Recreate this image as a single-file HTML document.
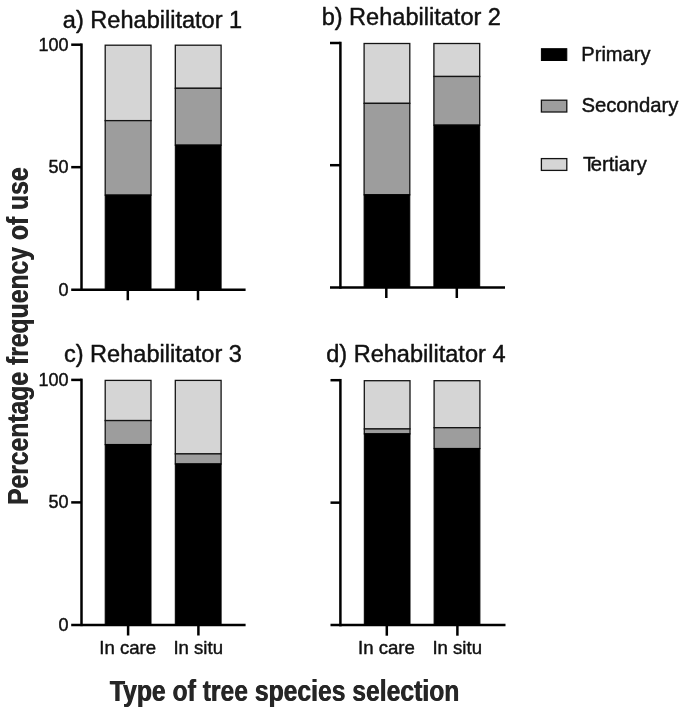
<!DOCTYPE html>
<html><head><meta charset="utf-8">
<style>
html,body{margin:0;padding:0;background:#fff;}
svg{display:block;will-change:transform;transform:translateZ(0);}
text{font-family:"Liberation Sans",sans-serif;fill:#111;stroke:#111;stroke-width:0.45;stroke-linejoin:round;}
text.b{fill:#262626;stroke:none;}
</style></head>
<body>
<svg width="685" height="717" viewBox="0 0 685 717">
<rect width="685" height="717" fill="#fff"/>
<rect x="105.2" y="45.20" width="45.80" height="75.43" fill="#d5d5d5" stroke="#141414" stroke-width="1.3"/>
<rect x="105.2" y="120.63" width="45.80" height="74.46" fill="#9d9d9d" stroke="#141414" stroke-width="1.3"/>
<rect x="105.2" y="195.10" width="45.80" height="94.55" fill="#000" stroke="#000" stroke-width="1"/>
<rect x="175.3" y="45.20" width="45.80" height="43.10" fill="#d5d5d5" stroke="#141414" stroke-width="1.3"/>
<rect x="175.3" y="88.30" width="45.80" height="56.83" fill="#9d9d9d" stroke="#141414" stroke-width="1.3"/>
<rect x="175.3" y="145.13" width="45.80" height="144.52" fill="#000" stroke="#000" stroke-width="1"/>
<path d="M81.5 43.45V290.90" stroke="#000" stroke-width="2.5" fill="none"/>
<path d="M71.2 289.65H245.6" stroke="#000" stroke-width="2.5" fill="none"/>
<path d="M71.2 44.70H81.5" stroke="#000" stroke-width="2.5" fill="none"/>
<path d="M71.2 167.17H81.5" stroke="#000" stroke-width="2.5" fill="none"/>
<path d="M127.8 289.65V300.25" stroke="#000" stroke-width="2.5" fill="none"/>
<path d="M198.0 289.65V300.25" stroke="#000" stroke-width="2.5" fill="none"/>
<text x="38.46" y="50.60" font-size="18.0">100</text>
<text x="48.54" y="173.07" font-size="18.0">50</text>
<text x="58.44" y="295.55" font-size="18.0">0</text>
<text x="62.86" y="27.70" font-size="23.55">a) Rehabilitator 1</text>
<rect x="364.1" y="43.50" width="45.70" height="59.87" fill="#d5d5d5" stroke="#141414" stroke-width="1.3"/>
<rect x="364.1" y="103.37" width="45.70" height="91.41" fill="#9d9d9d" stroke="#141414" stroke-width="1.3"/>
<rect x="364.1" y="194.77" width="45.70" height="92.63" fill="#000" stroke="#000" stroke-width="1"/>
<rect x="433.9" y="43.50" width="45.80" height="32.98" fill="#d5d5d5" stroke="#141414" stroke-width="1.3"/>
<rect x="433.9" y="76.48" width="45.80" height="48.64" fill="#9d9d9d" stroke="#141414" stroke-width="1.3"/>
<rect x="433.9" y="125.12" width="45.80" height="162.28" fill="#000" stroke="#000" stroke-width="1"/>
<path d="M340.4 41.75V288.65" stroke="#000" stroke-width="2.5" fill="none"/>
<path d="M330 287.4H505" stroke="#000" stroke-width="2.5" fill="none"/>
<path d="M330 43.00H340.4" stroke="#000" stroke-width="2.5" fill="none"/>
<path d="M330 165.20H340.4" stroke="#000" stroke-width="2.5" fill="none"/>
<path d="M386.3 287.4V298.0" stroke="#000" stroke-width="2.5" fill="none"/>
<path d="M456.8 287.4V298.0" stroke="#000" stroke-width="2.5" fill="none"/>
<text x="321.65" y="24.60" font-size="23.55">b) Rehabilitator 2</text>
<rect x="105.2" y="380.40" width="45.80" height="40.17" fill="#d5d5d5" stroke="#141414" stroke-width="1.3"/>
<rect x="105.2" y="420.57" width="45.80" height="24.01" fill="#9d9d9d" stroke="#141414" stroke-width="1.3"/>
<rect x="105.2" y="444.58" width="45.80" height="180.32" fill="#000" stroke="#000" stroke-width="1"/>
<rect x="175.3" y="380.40" width="45.80" height="73.49" fill="#d5d5d5" stroke="#141414" stroke-width="1.3"/>
<rect x="175.3" y="453.89" width="45.80" height="10.04" fill="#9d9d9d" stroke="#141414" stroke-width="1.3"/>
<rect x="175.3" y="463.93" width="45.80" height="160.97" fill="#000" stroke="#000" stroke-width="1"/>
<path d="M81.5 378.65V626.15" stroke="#000" stroke-width="2.5" fill="none"/>
<path d="M71.2 624.9H245.6" stroke="#000" stroke-width="2.5" fill="none"/>
<path d="M71.2 379.90H81.5" stroke="#000" stroke-width="2.5" fill="none"/>
<path d="M71.2 502.40H81.5" stroke="#000" stroke-width="2.5" fill="none"/>
<path d="M128.1 624.9V635.5" stroke="#000" stroke-width="2.5" fill="none"/>
<path d="M198.4 624.9V635.5" stroke="#000" stroke-width="2.5" fill="none"/>
<text x="38.46" y="385.80" font-size="18.0">100</text>
<text x="48.54" y="508.30" font-size="18.0">50</text>
<text x="58.44" y="630.80" font-size="18.0">0</text>
<text x="99.27" y="653.80" font-size="18.6">In care</text>
<text x="173.38" y="653.80" font-size="18.6">In situ</text>
<text x="63.96" y="362.00" font-size="23.55">c) Rehabilitator 3</text>
<rect x="364.3" y="380.70" width="45.70" height="48.24" fill="#d5d5d5" stroke="#141414" stroke-width="1.3"/>
<rect x="364.3" y="428.94" width="45.70" height="4.90" fill="#9d9d9d" stroke="#141414" stroke-width="1.3"/>
<rect x="364.3" y="433.83" width="45.70" height="191.27" fill="#000" stroke="#000" stroke-width="1"/>
<rect x="434.1" y="380.70" width="45.80" height="47.01" fill="#d5d5d5" stroke="#141414" stroke-width="1.3"/>
<rect x="434.1" y="427.71" width="45.80" height="20.82" fill="#9d9d9d" stroke="#141414" stroke-width="1.3"/>
<rect x="434.1" y="448.53" width="45.80" height="176.57" fill="#000" stroke="#000" stroke-width="1"/>
<path d="M340.4 378.95V626.35" stroke="#000" stroke-width="2.5" fill="none"/>
<path d="M330.5 625.1H505.5" stroke="#000" stroke-width="2.5" fill="none"/>
<path d="M330.5 380.20H340.4" stroke="#000" stroke-width="2.5" fill="none"/>
<path d="M330.5 502.65H340.4" stroke="#000" stroke-width="2.5" fill="none"/>
<path d="M386.8 625.1V635.7" stroke="#000" stroke-width="2.5" fill="none"/>
<path d="M457.4 625.1V635.7" stroke="#000" stroke-width="2.5" fill="none"/>
<text x="357.97" y="654.00" font-size="18.6">In care</text>
<text x="432.38" y="654.00" font-size="18.6">In situ</text>
<text x="326.16" y="362.00" font-size="23.55">d) Rehabilitator 4</text>

<rect x="541.4" y="48.7" width="25.4" height="11.8" fill="#000" stroke="#000" stroke-width="1"/>
<rect x="541.4" y="100.2" width="25.4" height="11.8" fill="#9d9d9d" stroke="#141414" stroke-width="1.3"/>
<rect x="541.4" y="158.6" width="25.4" height="11.8" fill="#d5d5d5" stroke="#141414" stroke-width="1.3"/>
<text x="581.29" y="60.60" font-size="20.1">Primary</text><text x="581.38" y="112.40" font-size="20.3">Secondary</text><text x="583.10" y="170.70" font-size="20.2">T<tspan dx="-2.4">ertiary</tspan></text>

<text class="b" transform="translate(109.55 700.9) scale(0.8235 1)" font-size="30.0" font-weight="bold">Type of tree species selection</text>
<text class="b" transform="translate(28.3 504.73) rotate(-90) scale(0.8235 1)" font-size="30.0" font-weight="bold">Percentage frequency of use</text>

<text class="b" transform="translate(110.15 700.9) scale(0.8235 1)" font-size="30.0" font-weight="bold">Type of tree species selection</text>
<text class="b" transform="translate(28.3 505.33) rotate(-90) scale(0.8235 1)" font-size="30.0" font-weight="bold">Percentage frequency of use</text>

</svg>
</body></html>
